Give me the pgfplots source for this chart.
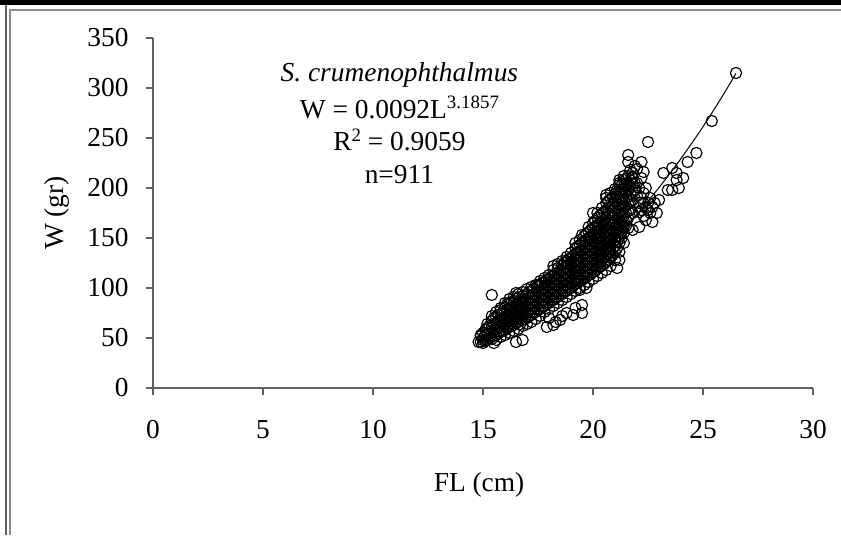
\documentclass[border=0pt]{standalone}
\usepackage{fontspec}
\setmainfont{Liberation Serif}
\usepackage{pgfplots}
\pgfplotsset{compat=1.18}
\usetikzlibrary{calc}
\definecolor{axgrey}{HTML}{606060}
\definecolor{framegrey}{HTML}{8A8A8A}

\begin{document}
\begin{tikzpicture}[x=1bp,y=1bp]
\begin{axis}[
  name=ax,
  width=660bp, height=350bp, scale only axis,
  xmin=0, xmax=30, ymin=0, ymax=350,
  xtick={0,5,...,30}, ytick={0,50,...,350},
  axis x line*=bottom, axis y line*=left,
  axis line style={axgrey,line width=1.2bp},
  tick style={axgrey,line width=1.2bp},
  tick align=outside, major tick length=7bp,
  font=\fontsize{27.5}{33}\selectfont,
  /pgf/number format/assume math mode=true,
  xticklabel style={yshift=-22bp},
  yticklabel style={xshift=-14bp},
  clip=false,
  xlabel={FL (cm)}, ylabel={W (gr)},
  xlabel style={at={(axis description cs:0.494,-0.277)},anchor=center},
  ylabel style={at={(axis description cs:-0.1455,0.5)},anchor=center},
]
% dense band of the 911 fish
\addplot[only marks,mark=o,mark size=5.6bp,mark options={line width=1.15bp,draw=black}] coordinates {
(14.9,46)(14.9,52)
(15.0,45)(15.0,50)(15.0,55)
(15.1,47)(15.1,53)(15.1,58)
(15.2,48)(15.2,54)(15.2,60)
(15.3,50)(15.3,56)(15.3,62)
(15.4,49)(15.4,55)(15.4,61)(15.4,67)
(15.5,52)(15.5,58)(15.5,64)(15.5,70)
(15.6,53)(15.6,59)(15.6,65)(15.6,71)
(15.7,55)(15.7,61)(15.7,67)(15.7,73)
(15.8,56)(15.8,62)(15.8,68)(15.8,74)(15.8,78)
(15.9,57)(15.9,63)(15.9,69)(15.9,75)
(16.0,58)(16.0,64)(16.0,70)(16.0,76)(16.0,81)
(16.1,60)(16.1,66)(16.1,72)(16.1,78)(16.1,84)
(16.2,61)(16.2,67)(16.2,73)(16.2,79)(16.2,85)
(16.3,62)(16.3,68)(16.3,74)(16.3,80)(16.3,86)
(16.4,63)(16.4,69)(16.4,75)(16.4,81)(16.4,87)
(16.5,65)(16.5,71)(16.5,77)(16.5,83)(16.5,89)
(16.6,66)(16.6,72)(16.6,78)(16.6,84)(16.6,90)
(16.7,64)(16.7,70)(16.7,76)(16.7,82)(16.7,88)
(16.8,68)(16.8,74)(16.8,80)(16.8,86)(16.8,92)
(16.9,69)(16.9,75)(16.9,81)(16.9,87)
(17.0,70)(17.0,76)(17.0,82)(17.0,88)(17.0,94)
(17.1,72)(17.1,78)(17.1,84)(17.1,90)(17.1,96)
(17.2,73)(17.2,79)(17.2,85)(17.2,91)(17.2,97)
(17.3,75)(17.3,81)(17.3,87)(17.3,93)(17.3,99)
(17.4,76)(17.4,82)(17.4,88)(17.4,94)
(17.5,78)(17.5,84)(17.5,90)(17.5,96)(17.5,102)
(17.6,79)(17.6,85)(17.6,91)(17.6,97)(17.6,103)
(17.7,81)(17.7,87)(17.7,93)(17.7,99)(17.7,105)
(17.8,82)(17.8,88)(17.8,94)(17.8,100)(17.8,106)
(17.9,84)(17.9,90)(17.9,96)(17.9,102)(17.9,108)
(18.0,85)(18.0,91)(18.0,97)(18.0,103)(18.0,109)
(18.1,87)(18.1,93)(18.1,99)(18.1,105)(18.1,111)
(18.2,88)(18.2,94)(18.2,100)(18.2,106)(18.2,112)(18.2,118)
(18.3,90)(18.3,96)(18.3,102)(18.3,108)(18.3,114)
(18.4,91)(18.4,97)(18.4,103)(18.4,109)(18.4,115)(18.4,120)
(18.5,93)(18.5,99)(18.5,105)(18.5,111)(18.5,117)
(18.6,94)(18.6,100)(18.6,106)(18.6,112)(18.6,118)(18.6,123)
(18.7,96)(18.7,102)(18.7,108)(18.7,114)(18.7,120)(18.7,125)
(18.8,97)(18.8,103)(18.8,109)(18.8,115)(18.8,121)(18.8,127)
(18.9,99)(18.9,105)(18.9,111)(18.9,117)(18.9,123)(18.9,129)
(19.0,100)(19.0,106)(19.0,112)(19.0,118)(19.0,124)(19.0,130)
(19.1,102)(19.1,108)(19.1,114)(19.1,120)(19.1,126)(19.1,132)
(19.2,104)(19.2,110)(19.2,116)(19.2,122)(19.2,128)(19.2,134)(19.2,140)
(19.3,105)(19.3,111)(19.3,117)(19.3,123)(19.3,129)(19.3,135)(19.3,141)
(19.4,107)(19.4,113)(19.4,119)(19.4,125)(19.4,131)(19.4,137)(19.4,143)
(19.5,108)(19.5,114)(19.5,120)(19.5,126)(19.5,132)(19.5,138)(19.5,145)
(19.6,110)(19.6,116)(19.6,122)(19.6,128)(19.6,134)(19.6,140)(19.6,147)
(19.7,111)(19.7,117)(19.7,123)(19.7,129)(19.7,135)(19.7,141)(19.7,148)(19.7,154)
(19.8,113)(19.8,119)(19.8,125)(19.8,131)(19.8,137)(19.8,143)(19.8,150)(19.8,156)
(19.9,114)(19.9,120)(19.9,126)(19.9,132)(19.9,138)(19.9,144)(19.9,151)(19.9,158)
(20.0,116)(20.0,122)(20.0,128)(20.0,134)(20.0,140)(20.0,146)(20.0,153)(20.0,160)
(20.1,117)(20.1,123)(20.1,129)(20.1,135)(20.1,141)(20.1,147)(20.1,154)(20.1,161)(20.1,167)
(20.2,119)(20.2,125)(20.2,131)(20.2,137)(20.2,143)(20.2,149)(20.2,156)(20.2,163)(20.2,170)
(20.3,121)(20.3,127)(20.3,133)(20.3,139)(20.3,145)(20.3,151)(20.3,158)(20.3,165)(20.3,172)
(20.4,122)(20.4,128)(20.4,134)(20.4,140)(20.4,146)(20.4,152)(20.4,159)(20.4,166)(20.4,174)
(20.5,124)(20.5,130)(20.5,136)(20.5,142)(20.5,148)(20.5,154)(20.5,161)(20.5,168)(20.5,176)
(20.6,126)(20.6,132)(20.6,138)(20.6,144)(20.6,150)(20.6,156)(20.6,163)(20.6,170)(20.6,178)(20.6,185)
(20.7,128)(20.7,134)(20.7,140)(20.7,146)(20.7,152)(20.7,158)(20.7,165)(20.7,172)(20.7,180)(20.7,187)
(20.8,130)(20.8,136)(20.8,142)(20.8,148)(20.8,154)(20.8,160)(20.8,167)(20.8,174)(20.8,181)(20.8,189)
(20.9,133)(20.9,139)(20.9,145)(20.9,151)(20.9,157)(20.9,163)(20.9,170)(20.9,177)(20.9,184)(20.9,191)
(21.0,136)(21.0,142)(21.0,148)(21.0,154)(21.0,160)(21.0,166)(21.0,173)(21.0,180)(21.0,187)(21.0,194)
(21.1,140)(21.1,146)(21.1,152)(21.1,158)(21.1,164)(21.1,170)(21.1,177)(21.1,184)(21.1,191)(21.1,198)
(21.2,145)(21.2,151)(21.2,157)(21.2,163)(21.2,169)(21.2,176)(21.2,183)(21.2,190)(21.2,197)(21.2,203)
(21.3,150)(21.3,156)(21.3,162)(21.3,168)(21.3,175)(21.3,182)(21.3,189)(21.3,196)(21.3,203)
(21.4,155)(21.4,161)(21.4,167)(21.4,174)(21.4,181)(21.4,188)(21.4,195)(21.4,202)(21.4,208)
(21.5,162)(21.5,168)(21.5,175)(21.5,182)(21.5,189)(21.5,196)(21.5,203)(21.5,209)
(21.6,170)(21.6,177)(21.6,184)(21.6,191)(21.6,198)(21.6,205)
(21.7,178)(21.7,186)(21.7,194)(21.7,202)(21.7,208)
(21.8,188)(21.8,196)(21.8,204)(21.8,210)
% lower fringe of the band
(15.6,48)(15.8,51)(16.0,53)(16.2,55)(16.4,57)(16.6,59)(16.8,62)(17.0,64)(17.2,66)(17.4,69)
(17.6,72)(17.8,76)(18.0,79)(18.2,82)(18.4,85)(18.6,88)(18.8,91)(19.0,94)(19.2,97)(19.4,100)
(19.6,103)(19.8,106)(20.0,109)(20.2,112)(20.4,115)(20.6,118)(20.8,122)(21.0,128)(21.2,136)
(21.4,145)(21.6,160)(21.8,175)
% upper fringe of the band
(15.2,64)(15.4,72)(15.6,76)(15.8,80)(16.0,85)(16.2,89)(16.4,91)(16.6,94)(16.8,96)(17.0,99)
(17.2,101)(17.4,103)(17.6,107)(17.8,110)(18.0,113)(18.2,122)(18.4,124)(18.6,127)(18.8,131)
(19.0,135)(19.2,145)(19.4,148)(19.6,152)(19.8,161)(20.0,165)(20.2,175)(20.4,180)(20.6,190)
(20.8,195)(21.0,199)(21.2,208)(21.4,212)(21.6,212)(21.8,215)(21.9,205)(22.0,192)(22.1,185)
(22.2,178)(22.3,172)(22.4,180)(22.5,185)(22.2,190)(22.4,200)(22.2,210)(21.9,222)(21.7,218)
% scattered fish around the band
(14.8,46)(14.9,53)(15.0,48)(15.5,45)(16.5,46)(16.8,48)(15.4,93)(16.5,95)(17.5,103)
(17.9,61)(18.2,63)(18.5,68)(18.8,75)(19.1,73)(19.5,75)(19.5,83)(18.3,66)(18.0,70)(19.2,80)(18.6,72)
(19.4,98)(19.7,100)(21.1,120)(21.2,128)(19.5,153)(20.0,175)(20.6,193)
(21.6,233)(22.2,226)(22.3,216)(21.8,211)(21.2,205)(22.0,205)(22.1,200)(21.9,198)(22.3,195)(21.6,226)(22.0,219)
(23.2,215)(23.6,220)(24.3,226)(24.7,235)(23.8,208)(24.1,210)(23.4,198)(23.6,198)(23.9,200)(23.8,215)
(23.0,188)(22.7,181)(22.6,175)(22.4,168)(22.7,166)(22.1,161)(21.8,158)(22.1,176)(22.5,178)(22.8,185)(22.9,175)(22.3,185)(22.6,190)
(22.5,246)(25.4,267)(26.5,315)
};
% fitted power curve W = 0.0092 L^3.1857
\addplot[black,line width=1bp,smooth] coordinates {
(14.9,50.2)(15.5,57.0)(16,63.1)(16.5,69.6)(17,76.5)(17.5,83.9)(18,91.8)(18.5,100.1)
(19,109.0)(19.5,118.4)(20,128.4)(20.5,138.9)(21,150.0)(21.5,161.6)(22,173.9)
(22.5,186.8)(23,200.4)(23.5,214.6)(24,229.5)(24.5,245.1)(25,261.3)(25.5,278.4)
(26,296.1)(26.5,314.6)};
\node[font=\fontsize{27.5}{33}\selectfont\itshape] at (axis cs:11.2,313) {S. crumenophthalmus};
\node at (axis cs:11.2,281) {W = 0.0092L\raisebox{0.36em}{\fontsize{19}{20}\selectfont 3.1857}};
\node at (axis cs:11.2,248) {R\raisebox{0.36em}{\fontsize{19}{20}\selectfont 2} = 0.9059};
\node at (axis cs:11.2,213) {n=911};
\end{axis}
% frame of the screenshot, placed from the axis corner
\coordinate (o) at ($(ax.south west)+(-153,-162)$);
\useasboundingbox (o) rectangle ($(o)+(841,550)$);
\fill[black] ($(o)+(0,545)$) rectangle ($(o)+(841,550)$);
\draw[axgrey,line width=2bp] ($(o)+(6,15)$) -- ($(o)+(6,545)$);
\draw[framegrey,line width=1.2bp] ($(o)+(10,15)$) -- ($(o)+(10,540)$) -- ($(o)+(841,540)$);
\end{tikzpicture}
\end{document}
